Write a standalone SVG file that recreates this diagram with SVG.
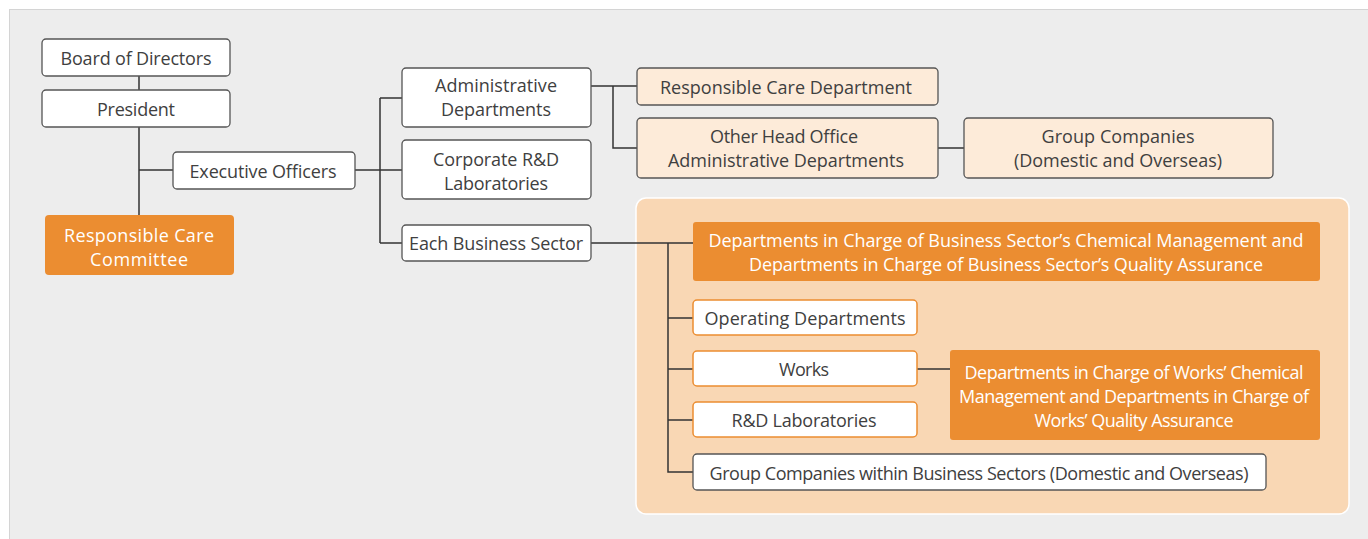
<svg xmlns="http://www.w3.org/2000/svg" width="1368" height="539" viewBox="0 0 1368 539">
<style>
text{font-family:"Open Sans","Noto Sans",sans-serif;font-size:18px;fill:#404040;text-anchor:middle}
.w{fill:#fff;stroke:#555;stroke-width:1.3}
.p{fill:#fdebd9;stroke:#555;stroke-width:1.3}
.o{fill:#eb8d31}
.ow{fill:#fff;stroke:#eb8d31;stroke-width:1.5}
.ot{fill:#fff}
.c{fill:none;stroke:#333;stroke-width:1.5}
</style>
<rect x="0" y="0" width="1368" height="539" fill="#fff"/>
<rect x="9.5" y="9.5" width="1370" height="540" fill="#ededed" stroke="#d4d4d4"/>
<rect id="panel" x="636" y="198" width="713" height="316" rx="10" fill="#f9d7b4" stroke="#fff" stroke-width="1.5"/>
<g id="connectors" class="c">
<path class="c" d="M139 76V90M139 127V215M139 170H173M355 170H402M380 98V243M380 98H402M380 243H402"/>
<path class="c" d="M591 86H637M613 86V148H637M938 148H964"/>
<path class="c" d="M591 243H693M668 243V472H693M668 318H693M668 369H693M668 420H693M917 369H950"/>
</g>
<g id="board"><rect class="w" x="42" y="39" width="188" height="37" rx="4"/><text x="136" y="65" textLength="151">Board of Directors</text></g>
<g id="president"><rect class="w" x="42" y="90" width="188" height="37" rx="4"/><text x="136" y="116" textLength="78">President</text></g>
<g id="exec"><rect class="w" x="173" y="152" width="182" height="37" rx="4"/><text x="263" y="178" textLength="147">Executive Officers</text></g>
<g id="rcc"><rect class="o" x="45" y="215" width="189" height="60" rx="4"/><text class="ot" x="139" y="242" textLength="150">Responsible Care</text><text class="ot" x="139" y="266" textLength="98">Committee</text></g>
<g id="admin"><rect class="w" x="402" y="68" width="189" height="59" rx="4"/><text x="496" y="92" textLength="122">Administrative</text><text x="496" y="116" textLength="110">Departments</text></g>
<g id="corp"><rect class="w" x="402" y="140" width="189" height="59" rx="4"/><text x="496" y="166" textLength="126">Corporate R&amp;D</text><text x="496" y="190" textLength="104">Laboratories</text></g>
<g id="ebs"><rect class="w" x="402" y="225" width="189" height="36" rx="4"/><text x="496" y="250" textLength="174">Each Business Sector</text></g>
<g id="rcd"><rect class="p" x="637" y="68" width="301" height="37" rx="4"/><text x="786" y="94" textLength="252">Responsible Care Department</text></g>
<g id="other"><rect class="p" x="637" y="118" width="301" height="60" rx="4"/><text x="784" y="143" textLength="148">Other Head Office</text><text x="786" y="167" textLength="236">Administrative Departments</text></g>
<g id="group"><rect class="p" x="964" y="118" width="309" height="60" rx="4"/><text x="1118" y="143" textLength="153">Group Companies</text><text x="1118" y="167" textLength="208">(Domestic and Overseas)</text></g>
<g id="dcb"><rect class="o" x="693" y="222" width="627" height="59" rx="3"/><text class="ot" x="1006" y="247" textLength="595">Departments in Charge of Business Sector’s Chemical Management and</text><text class="ot" x="1006" y="271" textLength="514">Departments in Charge of Business Sector’s Quality Assurance</text></g>
<g id="opd"><rect class="ow" x="693" y="300" width="224" height="35" rx="4"/><text x="805" y="325" textLength="201">Operating Departments</text></g>
<g id="works"><rect class="ow" x="693" y="351" width="224" height="35" rx="4"/><text x="804" y="376" textLength="50">Works</text></g>
<g id="rdl"><rect class="ow" x="693" y="402" width="224" height="35" rx="4"/><text x="804" y="427" textLength="145">R&amp;D Laboratories</text></g>
<g id="dcw"><rect class="o" x="950" y="350" width="370" height="90" rx="3"/><text class="ot" x="1134" y="379" textLength="339">Departments in Charge of Works’ Chemical</text><text class="ot" x="1134" y="403" textLength="350">Management and Departments in Charge of</text><text class="ot" x="1134" y="427" textLength="199">Works’ Quality Assurance</text></g>
<g id="gcb"><rect class="w" x="693" y="454" width="573" height="36" rx="4"/><text x="979" y="480" textLength="539">Group Companies within Business Sectors (Domestic and Overseas)</text></g>
</svg>
